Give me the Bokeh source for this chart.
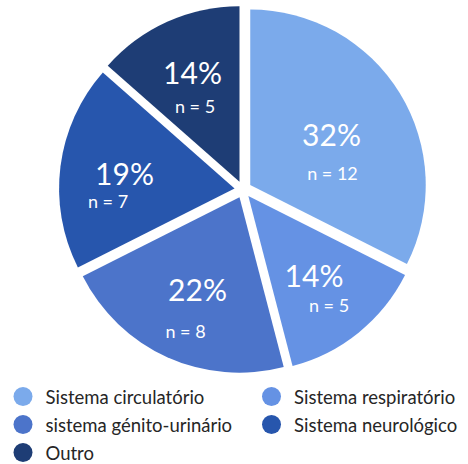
import numpy as np
from bokeh.plotting import figure
from bokeh.models import Range1d, ColumnDataSource
from bokeh.core.properties import value
from bokeh.embed import file_html
from bokeh.resources import INLINE

# ---- data ----
categories = ["Sistema circulatório", "Sistema respiratório", "sistema génito-urinário",
              "Sistema neurológico", "Outro"]
counts = [12, 5, 8, 7, 5]
pct_labels = ["32%", "14%", "22%", "19%", "14%"]
n_labels = ["n = 12", "n = 5", "n = 8", "n = 7", "n = 5"]
colors = ["#7BAAEB", "#6592E4", "#4C74CA", "#2756AD", "#1E3D75"]

# ---- layout (image pixel coordinates; data y = -pixel y) ----
CX, CY = 242.5, 189.0
R = 175.5
EXPLODE = 8.5
# label offsets relative to pie centre (pixels, y down)
pct_off = [(88.5, -55.5), (71.0, 85.0), (-45.5, 99.0), (-118.5, -16.5), (-50.5, -117.5)]
n_off = [(89.5, -17.0), (86.0, 115.0), (-57.5, 141.0), (-135.0, 11.0), (-48.0, -83.5)]
legend_rows = [(22.5, 396), (271.0, 396), (22.5, 424), (271.0, 424), (22.5, 452)]

vals = np.array(counts, dtype=float)
frac = vals / vals.sum()
theta_end = np.cumsum(frac) * 360.0          # clockwise from top
theta_start = theta_end - frac * 360.0
bis = np.radians((theta_start + theta_end) / 2.0)

wx = CX + EXPLODE * np.sin(bis)
wy = -(CY - EXPLODE * np.cos(bis))
start_angle = np.radians(90.0 - theta_end)
end_angle = np.radians(90.0 - theta_start)

p = figure(width=468, height=464, output_backend="svg", toolbar_location=None,
           x_axis_location=None, y_axis_location=None, min_border=0,
           x_range=Range1d(0, 468), y_range=Range1d(-464, 0))
p.grid.visible = False
p.outline_line_color = None
p.background_fill_color = "white"
p.border_fill_color = "white"

src = ColumnDataSource(dict(x=wx, y=wy, sa=start_angle, ea=end_angle, color=colors))
p.wedge(x="x", y="y", radius=R, start_angle="sa", end_angle="ea", direction="anticlock",
        fill_color="color", line_color=None, source=src)

p.text(x=[CX + o[0] for o in pct_off], y=[-(CY + o[1]) for o in pct_off], text=pct_labels,
       text_align="center", text_baseline="middle", text_font=value("Lato"),
       text_font_size="30px", text_color="white")
p.text(x=[CX + o[0] for o in n_off], y=[-(CY + o[1]) for o in n_off], text=n_labels,
       text_align="center", text_baseline="middle", text_font=value("Lato"),
       text_font_size="18px", text_color="white")

# legend
p.scatter(x=[r[0] for r in legend_rows], y=[-r[1] for r in legend_rows], size=19,
          marker="circle", fill_color=colors, line_color=None)
p.text(x=[r[0] + 22.5 for r in legend_rows], y=[-r[1] for r in legend_rows], text=categories,
       text_align="left", text_baseline="middle", text_font=value("Lato"),
       text_font_size="18.5px", text_color="#262626")

open("out.html", "w").write(file_html(p, INLINE))
